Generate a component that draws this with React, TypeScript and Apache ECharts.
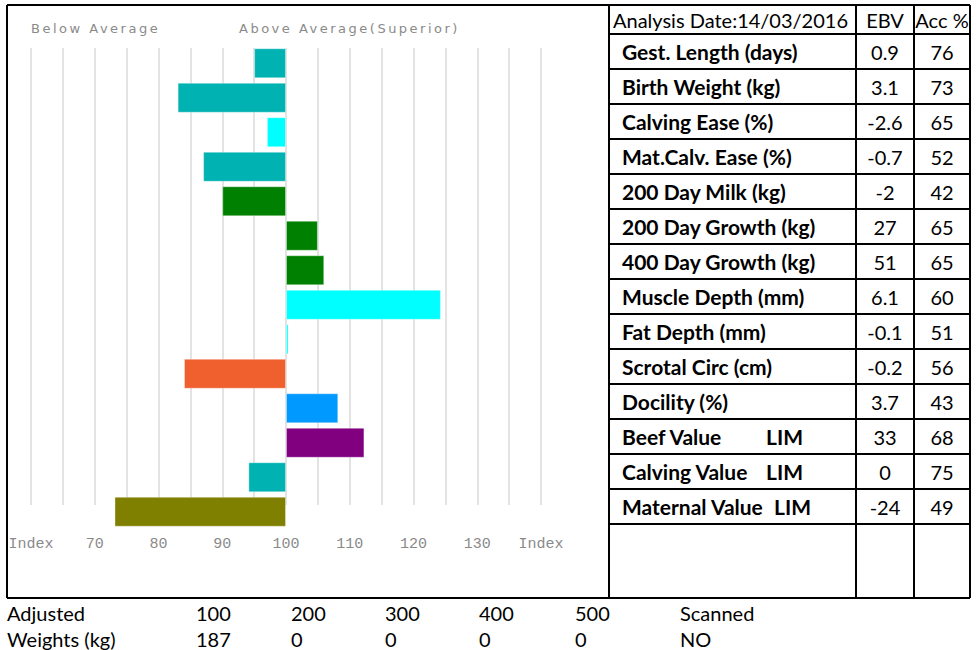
import React, { useEffect, useRef } from "react";
import * as echarts from "echarts";

// ---- data ----
const traits = [
  "Gest. Length (days)",
  "Birth Weight (kg)",
  "Calving Ease (%)",
  "Mat.Calv. Ease (%)",
  "200 Day Milk (kg)",
  "200 Day Growth (kg)",
  "400 Day Growth (kg)",
  "Muscle Depth (mm)",
  "Fat Depth (mm)",
  "Scrotal Circ (cm)",
  "Docility (%)",
  "Beef Value",
  "Calving Value",
  "Maternal Value",
];
const breedTags = ["", "", "", "", "", "", "", "", "", "", "", "LIM", "LIM", "LIM"];
const ebvValues = ["0.9", "3.1", "-2.6", "-0.7", "-2", "27", "51", "6.1", "-0.1", "-0.2", "3.7", "33", "0", "-24"];
const accValues = ["76", "73", "65", "52", "42", "65", "65", "60", "51", "56", "43", "68", "75", "49"];
const indexValues = [95, 83, 97, 87, 90, 105, 106, 124.3, 100.4, 84, 108.2, 112.3, 94.1, 73.1];
const barColors = [
  "#00b2b2", "#00b2b2", "#00ffff", "#00b2b2", "#008000", "#008000", "#008000",
  "#00ffff", "#00ffff", "#f05f2e", "#0099ff", "#800080", "#00b2b2", "#808000",
];
const indexTickLabels = [70, 80, 90, 100, 110, 120, 130];
const indexEndLabel = "Index";
const headerTexts = ["Below Average", "Above Average(Superior)"];
const tableHeader = ["Analysis Date:14/03/2016", "EBV", "Acc %"];
const weightRowLabels = ["Adjusted", "Weights (kg)"];
const weightDays = ["100", "200", "300", "400", "500"];
const weightValues = ["187", "0", "0", "0", "0"];
const scannedLabel = "Scanned";
const scannedValue = "NO";

const BASE = 100;

export default function App() {
  const ref = useRef<HTMLDivElement>(null);

  useEffect(() => {
    if (!ref.current) return;
    const el = ref.current;
    const chart = echarts.init(el, null, { renderer: "svg" });

    const tableFont = "Lato";
    const lineStyle = { stroke: "#000", lineWidth: 2 };
    const L = 7, T = 5, R = 970, B = 598, MID = 609, C1 = 856, C2 = 914;
    const rowTop = 34, rowH = 35;

    const graphics: any[] = [];
    // header texts
    graphics.push({
      type: "text", left: 31, top: 22,
      style: { text: headerTexts[0], fill: "#8a8a8a", font: "13px 'DejaVu Sans'" },
    });
    graphics.push({
      type: "text", left: 239, top: 22,
      style: { text: headerTexts[1], fill: "#8a8a8a", font: "13px 'DejaVu Sans'" },
    });

    // table lines
    const lines: number[][] = [
      [L, T, R, T],
      [L, B, R, B],
      [L, T, L, B],
      [R, T, R, B],
      [MID, T, MID, B],
      [C1, T, C1, B],
      [C2, T, C2, B],
    ];
    for (let i = 0; i <= traits.length; i++) {
      const y = rowTop + i * rowH;
      lines.push([MID, y, R, y]);
    }
    lines.forEach((l) =>
      graphics.push({
        type: "line",
        shape: { x1: l[0], y1: l[1], x2: l[2], y2: l[3] },
        style: lineStyle,
        silent: true,
      })
    );

    const txt = (text: string, x: number, y: number, align: string, bold = false, size = 20) => ({
      type: "text",
      x,
      y,
      style: {
        text,
        fill: "#000",
        align,
        verticalAlign: "middle",
        font: `${bold ? "bold " : ""}${size}px ${tableFont}`,
      },
    });

    graphics.push(txt(tableHeader[0], 613, 20, "left", false, 20));
    graphics.push(txt(tableHeader[1], 885, 20, "center"));
    graphics.push(txt(tableHeader[2], 942, 20, "center"));

    const tagX = [766, 766, 774];
    let tagIdx = 0;
    traits.forEach((t, i) => {
      const cy = rowTop + i * rowH + rowH / 2;
      graphics.push(txt(t, 622, cy, "left", true, 21));
      if (breedTags[i]) {
        graphics.push(txt(breedTags[i], tagX[tagIdx++] ?? 770, cy, "left", true, 21));
      }
      graphics.push(txt(ebvValues[i], 885, cy, "center"));
      graphics.push(txt(accValues[i], 942, cy, "center"));
    });

    // bottom texts
    graphics.push(txt(weightRowLabels[0], 7, 613, "left"));
    graphics.push(txt(weightRowLabels[1], 7, 639, "left"));
    const dayX = [196, 291, 385, 479, 575];
    weightDays.forEach((d, i) => {
      graphics.push(txt(d, dayX[i], 613, "left"));
      graphics.push(txt(weightValues[i], dayX[i], 639, "left"));
    });
    graphics.push(txt(scannedLabel, 680, 613, "left"));
    graphics.push(txt(scannedValue, 680, 639, "left"));

    const option: any = {
      animation: false,
      backgroundColor: "#fff",
      grid: [
        { left: 31, width: 510, top: 48, height: 457, containLabel: false },
        { left: 31, width: 510, top: 46, height: 483, containLabel: false },
      ],
      xAxis: [
        {
          gridIndex: 0,
          type: "value",
          min: -40,
          max: 40,
          interval: 5,
          axisLine: { show: false },
          axisTick: { show: false },
          axisLabel: { show: false },
          splitLine: { show: true, lineStyle: { color: "#e3e3e3", width: 2 } },
        },
        {
          gridIndex: 1,
          type: "value",
          min: -40,
          max: 40,
          interval: 5,
          position: "bottom",
          axisLine: { show: false },
          axisTick: { show: false },
          splitLine: { show: false },
          axisLabel: {
            show: true,
            margin: 8,
            color: "#8a8a8a",
            fontFamily: "'Liberation Mono'",
            fontSize: 15,
            showMinLabel: true,
            showMaxLabel: true,
            formatter: (v: number) => {
              const idx = Math.round(v + BASE);
              if (idx === 60 || idx === 140) return indexEndLabel;
              return indexTickLabels.includes(idx) ? String(idx) : "";
            },
          },
        },
      ],
      yAxis: [
        { gridIndex: 0, type: "category", data: traits, show: false },
        { gridIndex: 1, type: "category", data: traits, inverse: true, show: false },
      ],
      series: [
        {
          type: "bar",
          xAxisIndex: 1,
          yAxisIndex: 1,
          barWidth: 30,
          data: indexValues.map((v, i) => ({
            value: +(v - BASE).toFixed(2),
            itemStyle: { color: barColors[i], borderColor: "rgba(255,255,255,0.35)", borderWidth: 1 },
          })),
        },
      ],
      graphic: graphics,
    };

    const spaceHeaders = () => {
      el.querySelectorAll("text").forEach((t) => {
        if (headerTexts.includes((t.textContent || "").trim())) {
          t.setAttribute("letter-spacing", "2.5");
        }
      });
    };

    chart.on("finished", spaceHeaders);
    chart.setOption(option);
    spaceHeaders();
    return () => chart.dispose();
  }, []);

  return (
    <div
      ref={ref}
      style={{ position: "fixed", left: 0, top: 0, width: 977, height: 650, background: "#fff" }}
    />
  );
}
